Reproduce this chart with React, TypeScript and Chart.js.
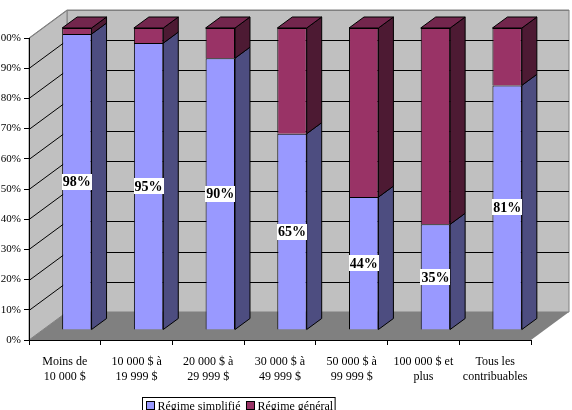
import React, { useEffect, useRef } from 'react';
import { Chart, registerables } from 'chart.js';

Chart.register(...registerables);

const categories: string[][] = [
  ['Moins de', '10 000 $'],
  ['10 000 $ à', '19 999 $'],
  ['20 000 $ à', '29 999 $'],
  ['30 000 $ à', '49 999 $'],
  ['50 000 $ à', '99 999 $'],
  ['100 000 $ et', 'plus'],
  ['Tous les', 'contribuables'],
];
const seriesNames = ['Régime simplifié', 'Régime général'];
const simplifie = [98, 95, 90, 65, 44, 35, 81];
const general = [2, 5, 10, 35, 56, 65, 19];
const gridValues = [10, 20, 30, 40, 50, 60, 70, 80, 90, 100];

const FONT = "'Liberation Serif', 'Times New Roman', serif";
const COLORS = [
  { front: '#9999FF', side: '#4D4D80', top: '#7373BF' },
  { front: '#993366', side: '#4D1A33', top: '#73264D' },
];
const WALL_DEPTH = { dx: 38, dy: -28 };
const BAR_SHIFT = { dx: 12, dy: -10 };
const BAR_DEPTH = { dx: 15, dy: -11 };

function poly(ctx: CanvasRenderingContext2D, pts: number[][], fill: string, stroke?: string) {
  ctx.beginPath();
  ctx.moveTo(pts[0][0], pts[0][1]);
  for (let i = 1; i < pts.length; i++) ctx.lineTo(pts[i][0], pts[i][1]);
  ctx.closePath();
  ctx.fillStyle = fill;
  ctx.fill();
  if (stroke) {
    ctx.strokeStyle = stroke;
    ctx.lineWidth = 1;
    ctx.stroke();
  }
}

const threeD = {
  id: 'threeD',
  beforeDraw(chart: any) {
    const { ctx, chartArea } = chart;
    const y = chart.scales.y;
    const L = chartArea.left;
    const R = chartArea.right;
    const y0 = y.getPixelForValue(0);
    const y100 = y.getPixelForValue(100);
    const { dx, dy } = WALL_DEPTH;
    ctx.save();
    poly(ctx, [[L + dx, y100 + dy], [R + dx, y100 + dy], [R + dx, y0 + dy], [L + dx, y0 + dy]], '#C0C0C0', '#808080');
    poly(ctx, [[L, y100], [L + dx, y100 + dy], [L + dx, y0 + dy], [L, y0]], '#C0C0C0', '#808080');
    poly(ctx, [[L, y0], [R, y0], [R + dx, y0 + dy], [L + dx, y0 + dy]], '#808080');
    ctx.lineWidth = 1;
    for (const v of gridValues) {
      const py = Math.round(y.getPixelForValue(v)) + 0.5;
      ctx.strokeStyle = v === 100 ? '#808080' : '#000000';
      ctx.beginPath();
      ctx.moveTo(L, py);
      ctx.lineTo(L + dx, py + dy);
      ctx.lineTo(R + dx, py + dy);
      ctx.stroke();
    }
    ctx.restore();
  },
  beforeDatasetsDraw(chart: any) {
    const { ctx } = chart;
    ctx.save();
    ctx.translate(BAR_SHIFT.dx, BAR_SHIFT.dy);
    const { dx, dy } = BAR_DEPTH;
    const n = chart.data.datasets.length;
    for (let d = 0; d < n; d++) {
      const meta = chart.getDatasetMeta(d);
      meta.data.forEach((bar: any) => {
        const { x, y, base, width } = bar.getProps(['x', 'y', 'base', 'width'], true);
        const left = x - width / 2;
        const right = x + width / 2;
        const top = Math.min(y, base);
        const bottom = Math.max(y, base);
        poly(ctx, [[right, top], [right + dx, top + dy], [right + dx, bottom + dy], [right, bottom]], COLORS[d].side, '#000000');
        if (d === n - 1) {
          poly(ctx, [[left, top], [left + dx, top + dy], [right + dx, top + dy], [right, top]], COLORS[d].top, '#000000');
        }
      });
    }
  },
  afterDatasetsDraw(chart: any) {
    const { ctx } = chart;
    ctx.restore();
    ctx.save();
    const meta = chart.getDatasetMeta(0);
    ctx.font = `bold 14px ${FONT}`;
    ctx.textAlign = 'center';
    ctx.textBaseline = 'middle';
    meta.data.forEach((bar: any, i: number) => {
      const { x, y, base } = bar.getProps(['x', 'y', 'base'], true);
      const cx = x + BAR_SHIFT.dx;
      const cy = (y + base) / 2 + BAR_SHIFT.dy;
      const text = simplifie[i] + '%';
      const w = ctx.measureText(text).width + 2;
      ctx.fillStyle = '#FFFFFF';
      ctx.fillRect(Math.round(cx - w / 2), Math.round(cy - 8), Math.round(w), 16);
      ctx.fillStyle = '#000000';
      ctx.fillText(text, cx, cy + 1);
    });
    ctx.restore();
  },
  afterDraw(chart: any) {
    const { ctx } = chart;
    ctx.save();
    ctx.font = `12px ${FONT}`;
    ctx.textBaseline = 'middle';
    const bx = 142.5;
    const by = 397.5;
    let x = bx + 4;
    const items = seriesNames.map((name, i) => ({ name, color: COLORS[i].front }));
    const widths = items.map((it) => ctx.measureText(it.name).width);
    const total = widths.reduce((a, b) => a + b, 0) + items.length * 14 + 6;
    ctx.strokeStyle = '#000000';
    ctx.lineWidth = 1;
    ctx.strokeRect(bx, by, total, 20);
    items.forEach((it, i) => {
      ctx.fillStyle = it.color;
      ctx.fillRect(x, by + 4, 8, 8);
      ctx.strokeRect(x, by + 4, 8, 8);
      ctx.fillStyle = '#000000';
      ctx.fillText(it.name, x + 11, by + 9);
      x += widths[i] + 14 + 3;
    });
    ctx.restore();
  },
};

export default function App() {
  const ref = useRef<HTMLCanvasElement | null>(null);
  useEffect(() => {
    document.body.style.margin = '0';
    if (!ref.current) return;
    const chart = new Chart(ref.current, {
      type: 'bar',
      data: {
        labels: categories,
        datasets: [
          {
            label: seriesNames[0],
            data: simplifie,
            backgroundColor: COLORS[0].front,
            borderColor: '#000000',
            borderWidth: 1,
            categoryPercentage: 1,
            barPercentage: 0.41,
            clip: false as any,
          },
          {
            label: seriesNames[1],
            data: general,
            backgroundColor: COLORS[1].front,
            borderColor: '#000000',
            borderWidth: 1,
            categoryPercentage: 1,
            barPercentage: 0.41,
            clip: false as any,
          },
        ],
      },
      options: {
        responsive: false,
        animation: false,
        layout: { padding: { top: 38, right: 41, left: 0, bottom: 0 } },
        plugins: { legend: { display: false }, tooltip: { enabled: false } },
        scales: {
          x: {
            stacked: true,
            grid: { drawOnChartArea: false, tickLength: 5, color: '#000000', offset: true },
            border: { display: true, color: '#000000' },
            ticks: {
              color: '#000000',
              font: { family: FONT, size: 12, lineHeight: 1.25 },
              maxRotation: 0,
              autoSkip: false,
              padding: 9,
            },
            afterFit: (s: any) => {
              s.height = 70;
            },
          },
          y: {
            stacked: true,
            min: 0,
            max: 100,
            grid: { drawOnChartArea: false, tickLength: 5, color: '#000000' },
            border: { display: true, color: '#000000' },
            ticks: {
              stepSize: 10,
              color: '#000000',
              font: { family: FONT, size: 11 },
              padding: 3,
              callback: (v: any) => v + '%',
            },
            afterFit: (s: any) => {
              s.width = 29;
            },
          },
        },
      },
      plugins: [threeD],
    });
    return () => chart.destroy();
  }, []);
  return (
    <div style={{ width: 572, height: 410 }}>
      <canvas ref={ref} width={572} height={410} style={{ width: 572, height: 410, display: 'block' }} />
    </div>
  );
}
